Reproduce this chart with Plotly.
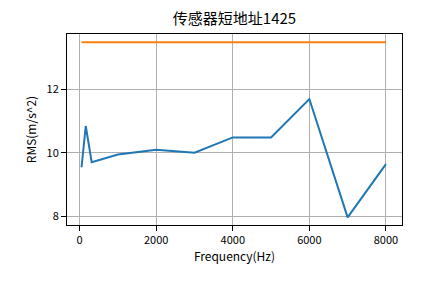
import plotly.graph_objects as go

freq = [50, 160, 315, 1000, 2000, 3000, 4000, 5000, 6000, 7000, 8000]
rms = [9.55, 10.85, 9.71, 9.95, 10.10, 10.01, 10.49, 10.49, 11.70, 7.97, 9.65]
limit = [13.49] * len(freq)

title = "传感器短地址1425"
xlabel = "Frequency(Hz)"
ylabel = "RMS(m/s^2)"

FONT = "Noto Sans CJK SC"

fig = go.Figure()
fig.add_trace(go.Scatter(x=freq, y=rms, mode="lines",
                         line=dict(color="#1f77b4", width=2), showlegend=False))
fig.add_trace(go.Scatter(x=freq, y=limit, mode="lines",
                         line=dict(color="#ff7f0e", width=2), showlegend=False))

axis_common = dict(showline=True, linecolor="black", linewidth=1, mirror=True,
                   showgrid=True, gridcolor="#b0b0b0", gridwidth=1,
                   ticks="outside", ticklen=5, tickcolor="black", tickwidth=1,
                   zeroline=False, tickfont=dict(family=FONT, size=11, color="black"))

fig.update_xaxes(range=[-330, 8420], tickvals=[0, 2000, 4000, 6000, 8000],
                 title=dict(text=xlabel, font=dict(family=FONT, size=12, color="black"), standoff=6),
                 **axis_common)
fig.update_yaxes(range=[7.73, 13.75], tickvals=[8, 10, 12],
                 title=dict(text=ylabel, font=dict(family=FONT, size=12, color="black"), standoff=7),
                 **axis_common)

fig.update_layout(
    width=445, height=283,
    margin=dict(l=67, r=43, t=34, b=58),
    plot_bgcolor="white", paper_bgcolor="white",
    title=dict(text=title, x=0.5, xanchor="center", xref="paper",
               y=1 - 19 / 283, yref="container", yanchor="middle",
               font=dict(family=FONT, size=15, color="black")),
    font=dict(family=FONT),
)

fig.write_html("out.html")
